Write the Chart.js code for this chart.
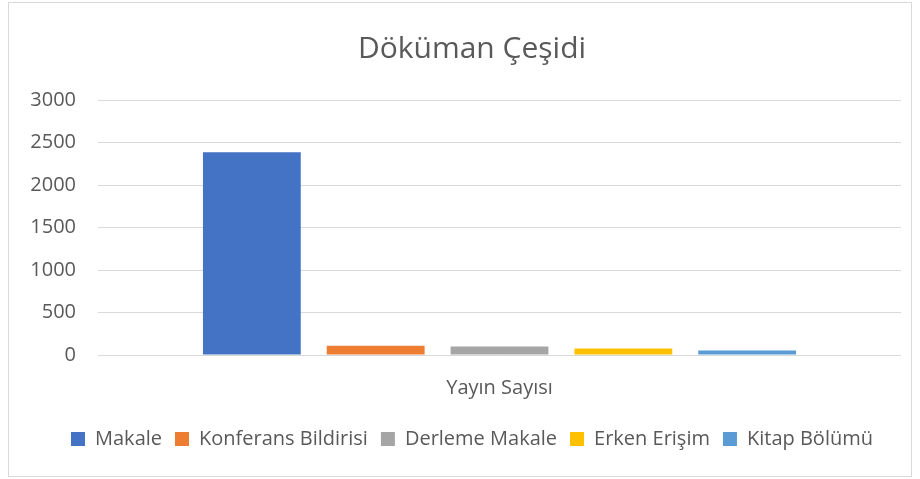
<!DOCTYPE html>
<html>
<head>
<meta charset="utf-8">
<script src="https://cdn.jsdelivr.net/npm/chart.js@4"></script>
<style>
    body { margin: 0; background: #fff; }
    #wrap {
        position: absolute;
        left: 8px;
        top: 2px;
        width: 902px;
        height: 473px;
        border: 1px solid #d9d9d9;
    }
</style>
</head>
<body>
<div id="wrap"><canvas id="bar" width="902" height="473"></canvas></div>
<script>
// Döküman Çeşidi - yayin sayisi by document type
const categories = ['Yayın Sayısı'];
const seriesNames = ['Makale', 'Konferans Bildirisi', 'Derleme Makale', 'Erken Erişim', 'Kitap Bölümü'];
const seriesValues = [2384, 110, 99, 76, 53];
const seriesColors = ['#4472C4', '#ED7D31', '#A5A5A5', '#FFC000', '#5B9BD5'];
const yTicks = [0, 500, 1000, 1500, 2000, 2500, 3000];

const textColor = '#595959';
const fontFamily = "'Open Sans', sans-serif";

// title and legend sit a bit right of the canvas center in the original
const nudgeBoxes = {
    id: 'nudgeBoxes',
    afterLayout(chart) {
        [chart.titleBlock, chart.legend].forEach((box) => {
            if (box) {
                box.left += 17;
                box.right += 17;
            }
        });
    },
};

const Bar = document.getElementById("bar").getContext("2d");

const myBarChart = new Chart(Bar, {
    type: "bar",
    data: {
        labels: categories,
        datasets: seriesNames.map((name, i) => {
            return {
                label: name,
                data: [seriesValues[i]],
                backgroundColor: seriesColors[i],
                borderWidth: 0,
            };
        }),
    },
    options: {
        responsive: false,
        animation: false,
        categoryPercentage: 0.771,
        barPercentage: 0.79,
        layout: {
            padding: { top: 0, left: 0, right: 10, bottom: 17 },
        },
        plugins: {
            title: {
                display: true,
                text: 'Döküman Çeşidi',
                color: textColor,
                font: { family: fontFamily, size: 30, weight: 'normal' },
                padding: { top: 28, bottom: 33 },
            },
            legend: {
                position: 'bottom',
                labels: {
                    color: textColor,
                    font: { family: fontFamily, size: 20 },
                    boxWidth: 14,
                    boxHeight: 14,
                    padding: 13,
                },
            },
            tooltip: { enabled: false },
        },
        scales: {
            x: {
                grid: { display: false },
                border: { display: false },
                ticks: {
                    color: textColor,
                    font: { family: fontFamily, size: 20 },
                    padding: 13,
                },
                afterFit: (axis) => { axis.height = 61; },
            },
            y: {
                min: 0,
                max: yTicks[yTicks.length - 1],
                afterBuildTicks: (axis) => {
                    axis.ticks = yTicks.map((v) => ({ value: v }));
                },
                grid: {
                    color: '#d9d9d9',
                    lineWidth: 1,
                    drawTicks: false,
                },
                border: { display: false },
                ticks: {
                    color: textColor,
                    font: { family: fontFamily, size: 20 },
                    padding: 22,
                    callback: (value) => String(value),
                },
                afterFit: (axis) => { axis.width = 89; },
            },
        },
    },
    plugins: [nudgeBoxes],
});
</script>
</body>
</html>
